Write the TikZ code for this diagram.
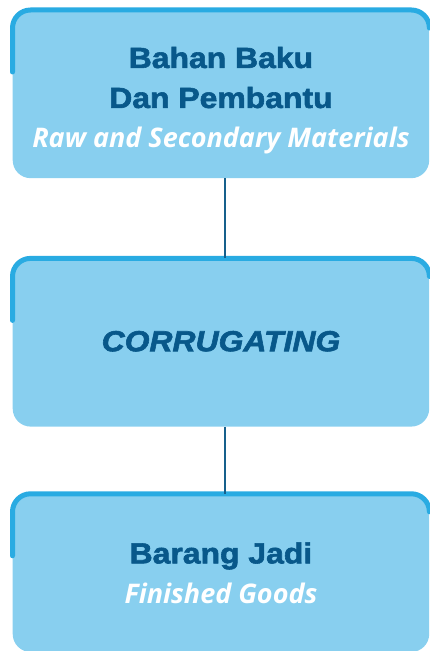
\documentclass[tikz,border=0pt]{standalone}
\usepackage{fontspec}
\newfontfamily\headfont{Liberation Sans}[FakeStretch=1.1, FakeBold=2]
\newfontfamily\subfont{Open Sans}
\definecolor{boxfill}{RGB}{136,207,239}
\definecolor{boxrim}{RGB}{41,171,226}
\definecolor{headblue}{RGB}{8,88,138}
\definecolor{linkblue}{RGB}{22,96,140}
\usetikzlibrary{positioning}

\begin{document}
\begin{tikzpicture}[x=1pt, y=1pt,
node distance = 80pt,
   box/.style = {fill=boxfill, rounded corners=18pt,
                 minimum width=416.5pt, minimum height=#1,
                 align=center, inner sep=0pt,
                 font=\fontsize{29}{40}\selectfont},
   rim/.style = {draw=boxrim, line width=5pt, line cap=round,
                 rounded corners=18pt},
  link/.style = {draw=linkblue, line width=2pt}
                 ]
\useasboundingbox (0,0) rectangle (430,651);

% boxes
\node[box=168pt, anchor=north west] (raw) at (12.5,641)
      {\rule{0pt}{34pt}{\headfont\bfseries\color{headblue}Bahan Baku}\\
       {\headfont\bfseries\color{headblue}Dan Pembantu}\\
       {\subfont\bfseries\itshape\color{white}\fontsize{27}{40}\selectfont
        Raw and Secondary Materials}};
\node[box=168pt, below=80pt of raw] (corr)
      {\raisebox{3pt}{\headfont\bfseries\itshape\color{headblue}CORRUGATING}};
\node[box=158pt, below=67pt of corr] (goods)
      {{\headfont\bfseries\color{headblue}Barang Jadi}\\
       {\subfont\bfseries\itshape\color{white}\fontsize{27}{40}\selectfont
        Finished Goods}};

% rims on the upper edge
\foreach \b in {raw, corr, goods}
  \draw[rim] ([yshift=-62pt]\b.north west) -- (\b.north west)
             -- (\b.north east) -- ([yshift=-18pt]\b.north east);

% links
\draw[link] ([xshift=4pt]raw.south)  -- ([xshift=4pt]corr.north);
\draw[link] ([xshift=4pt]corr.south) -- ([xshift=4pt]goods.north);
\end{tikzpicture}
\end{document}
